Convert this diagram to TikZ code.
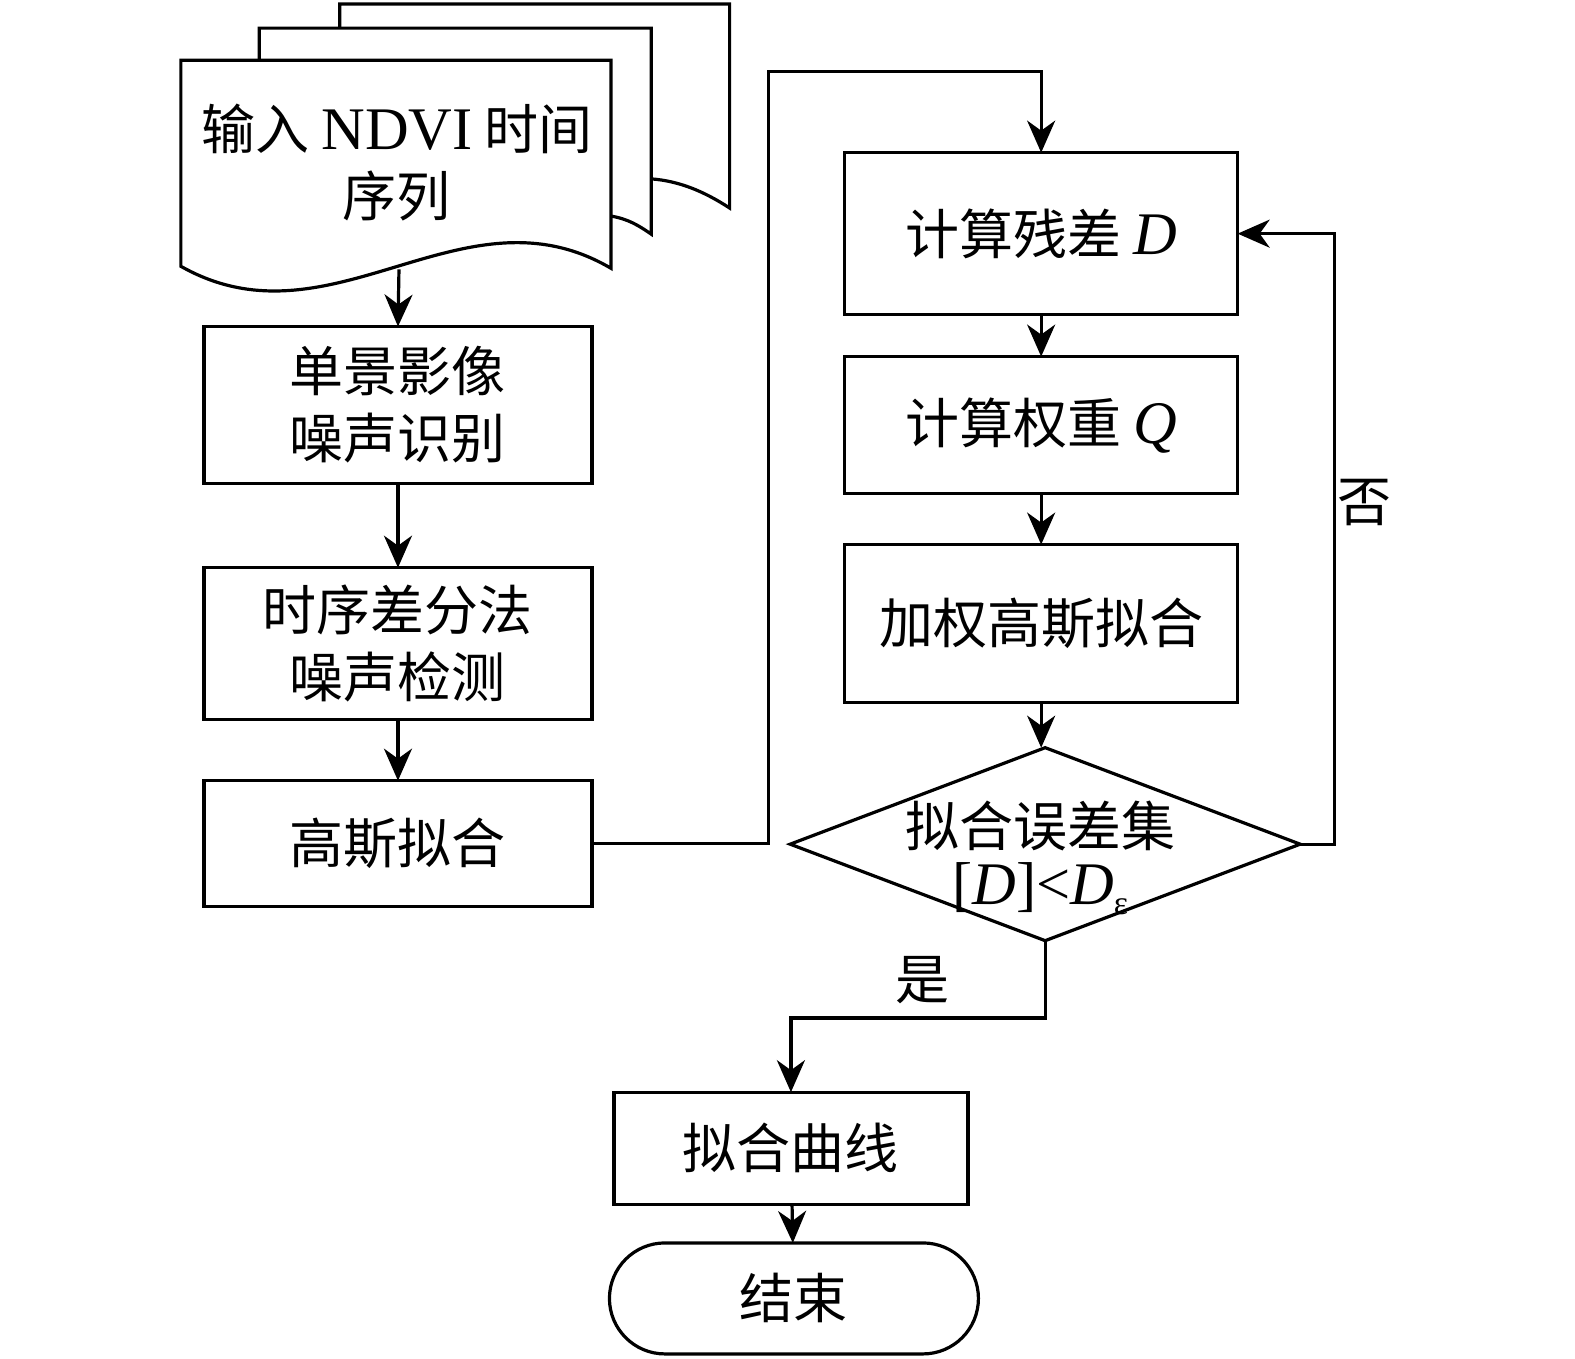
\documentclass[tikz,border=0pt]{standalone}
\usepackage{fontspec}
\setmainfont{Noto Sans CJK SC}
\newfontfamily\tms{Liberation Serif}[Scale=1.12]
\usetikzlibrary{positioning,shapes.geometric,shapes.misc,arrows.meta}

\begin{document}
\begin{tikzpicture}[x=0.5025pt, y=-0.5025pt, line width=1.6pt, >={Stealth[length=16pt,width=14pt,inset=5pt]}]
\tikzstyle{txt}=[inner sep=0pt, align=center, font=\fontsize{27}{33.5}\selectfont]
\tikzstyle{box}=[txt, rectangle, draw, outer sep=0pt]
\tikzstyle{dec}=[diamond, draw, inner sep=0pt, outer sep=0pt, aspect=2.63, minimum width=255pt, minimum height=96.5pt]
\tikzstyle{term}=[txt, rounded rectangle, draw, outer sep=0pt]
\useasboundingbox (0,0) rectangle (1567.2,1351.3);
% stacked documents
\draw (338,28) -- (338,4) -- (726,4) -- (726,207) .. controls (700,190) and (675,180) .. (648,178);
\draw (258,60) -- (258,28) -- (648,28) -- (648,233) .. controls (635,224) and (625,218) .. (608,215);
\draw[fill=white] (180,265) -- (180,60) -- (608,60) -- (608,267) .. controls (460,180) and (330,350) .. (180,265) -- cycle;
\node[txt] (doc) at (395,162) {输入 {\tms NDVI} 时间\\序列};
\coordinate (docout) at (397,268);
% left column
\node[box, minimum width=194pt, minimum height=78.5pt] (b1) at (396,403) {单景影像\\噪声识别};
\node[box, minimum width=194pt, minimum height=76pt] (b2) at (396,640.5) {时序差分法\\噪声检测};
\node[box, minimum width=194pt, minimum height=63pt] (b3) at (396,839.5) {高斯拟合};
% right column
\node[box, minimum width=196.5pt, minimum height=81pt] (b4) at (1036,232.5) {计算残差 {\tms\itshape D}};
\node[box, minimum width=196.5pt, minimum height=68.5pt] (b5) at (1036,423) {计算权重 {\tms\itshape Q}};
\node[box, minimum width=196.5pt, minimum height=79pt] (b6) at (1036,620.5) {加权高斯拟合};
\node[dec] (d1) at (1040,840) {};
\node[txt, font=\fontsize{27}{29}\selectfont] (d1txt) at (1035,854) {拟合误差集\\{\tms [\textit{D}]<\textit{D}\raisebox{-5pt}{\fontsize{15}{15}\selectfont ε}}};
\node[box, minimum width=177pt, minimum height=56pt] (b7) at (787,1142.5) {拟合曲线};
\node[term, minimum width=184.5pt, minimum height=55.5pt] (end) at (790,1292) {结束};
\node[txt] (no) at (1358,500) {否};
\node[txt] (yes) at (918,975) {是};
\coordinate (top) at (765,71);
\coordinate (fb) at (1328,840);
\coordinate (yb) at (787,1013);
% connectors
\draw[->] (docout) -- (b1.north);
\draw[->] (b1) -- (b2);
\draw[->] (b2) -- (b3);
\draw[->] (b3.east) -| (top) -| (b4.north);
\draw[->] (b4) -- (b5);
\draw[->] (b5) -- (b6);
\draw[->] (b6) -- (b6|-d1.north);
\draw[->] (d1.east) -- (fb) |- (b4.east);
\draw[->] (d1.south) |- (yb) -- (b7.north);
\draw[->] (b7) -- (end);
\end{tikzpicture}
\end{document}
